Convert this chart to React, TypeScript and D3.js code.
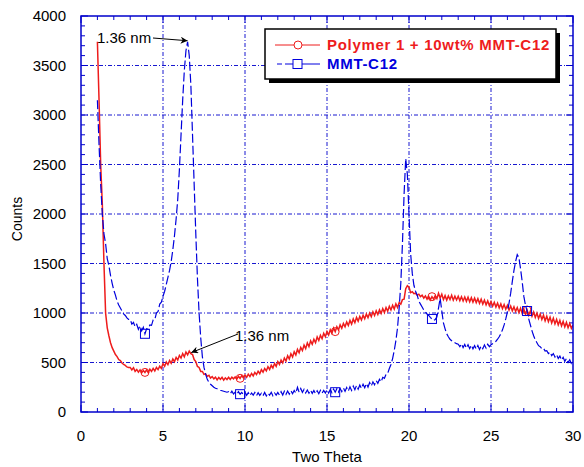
import React from "react";
import * as d3 from "d3";

const X_START = 1.0;
const X_STEP = 0.1;

const polymerValues: number[] = [
  3740, 3150, 2500, 2100, 1500, 1000, 850, 770, 700, 650,
  615, 580, 560, 530, 520, 495, 480, 470, 455, 450,
  450, 425, 448, 410, 430, 402, 425, 395, 420, 400,
  425, 398, 432, 410, 440, 415, 450, 428, 462, 440,
  490, 462, 505, 478, 520, 492, 535, 508, 552, 525,
  572, 545, 590, 558, 605, 578, 615, 590, 580, 530,
  510, 460, 450, 410, 410, 380, 385, 360, 370, 342,
  358, 335, 352, 325, 348, 330, 350, 322, 345, 328,
  350, 328, 352, 335, 355, 332, 360, 340, 368, 345,
  375, 350, 382, 358, 390, 365, 400, 378, 412, 388,
  428, 402, 440, 415, 458, 430, 472, 445, 490, 460,
  510, 480, 525, 495, 545, 515, 568, 535, 588, 555,
  608, 575, 632, 598, 652, 620, 675, 640, 698, 660,
  718, 685, 735, 700, 758, 722, 775, 740, 795, 760,
  812, 778, 830, 795, 848, 812, 862, 828, 880, 845,
  895, 860, 910, 875, 925, 888, 940, 902, 955, 918,
  965, 930, 978, 942, 990, 952, 1000, 962, 1012, 975,
  1022, 985, 1032, 995, 1045, 1005, 1055, 1018, 1068, 1030,
  1078, 1040, 1092, 1055, 1105, 1090, 1135, 1140, 1245, 1275,
  1260, 1205, 1215, 1195, 1200, 1180, 1190, 1165, 1180, 1150,
  1172, 1140, 1168, 1132, 1165, 1140, 1175, 1145, 1200, 1150,
  1190, 1135, 1175, 1130, 1172, 1135, 1180, 1130, 1170, 1132,
  1170, 1125, 1165, 1122, 1162, 1118, 1160, 1112, 1155, 1110,
  1150, 1105, 1145, 1098, 1140, 1090, 1130, 1082, 1122, 1075,
  1115, 1068, 1108, 1060, 1100, 1052, 1092, 1045, 1085, 1038,
  1078, 1030, 1070, 1022, 1062, 1015, 1055, 1005, 1048, 998,
  1040, 990, 1030, 978, 1020, 968, 1010, 955, 1000, 945,
  990, 935, 978, 922, 968, 912, 958, 900, 948, 890,
  935, 880, 925, 870, 915, 860, 905, 852, 895, 845,
  880,
];

const mmtValues: number[] = [
  3150, 2700, 2300, 2000, 1800, 1700, 1550, 1480, 1380, 1300,
  1230, 1180, 1120, 1080, 1050, 1020, 990, 975, 950, 935,
  935, 888, 905, 860, 885, 835, 870, 820, 855, 790,
  840, 835, 880, 875, 930, 935, 1000, 1015, 1090, 1110,
  1170, 1220, 1290, 1360, 1430, 1520, 1640, 1780, 1950, 2150,
  2450, 2800, 3150, 3450, 3650, 3740, 3600, 3300, 2800, 2300,
  1800, 1350, 1000, 750, 560, 450, 380, 330, 300, 280,
  265, 250, 240, 235, 228, 220, 215, 210, 205, 200,
  205, 185, 210, 182, 200, 178, 205, 180, 198, 175,
  200, 168, 195, 165, 192, 170, 198, 165, 195, 168,
  190, 165, 198, 162, 192, 170, 200, 165, 192, 170,
  198, 170, 205, 172, 210, 178, 212, 180, 215, 185,
  218, 190, 250, 200, 238, 198, 228, 192, 222, 190,
  220, 188, 218, 185, 215, 185, 220, 190, 218, 192,
  225, 192, 228, 195, 232, 200, 235, 202, 238, 205,
  242, 208, 248, 212, 255, 218, 262, 225, 268, 230,
  272, 238, 280, 245, 288, 252, 298, 262, 305, 275,
  318, 290, 330, 305, 350, 340, 380, 390, 440, 480,
  540, 620, 720, 850, 1050, 1300, 1700, 2200, 2560, 2400,
  2000, 1600, 1400, 1280, 1220, 1180, 1120, 1090, 1060, 1030,
  1010, 990, 975, 955, 940, 925, 935, 960, 1050, 1150,
  1020, 900, 840, 790, 760, 735, 720, 705, 700, 690,
  685, 660, 690, 650, 682, 645, 680, 640, 675, 638,
  670, 635, 672, 632, 668, 640, 678, 645, 685, 660,
  680, 690, 700, 715, 735, 760, 790, 830, 880, 940,
  1010, 1100, 1200, 1320, 1430, 1520, 1590, 1560, 1450, 1320,
  1170, 1080, 1020, 940, 880, 820, 770, 730, 700, 670,
  660, 640, 645, 615, 620, 590, 605, 570, 590, 555,
  580, 540, 565, 525, 552, 512, 540, 500, 528, 490,
  505,
];

const markerXs: number[] = [3.9, 9.7, 15.5, 21.4, 27.2];
const xTicks: number[] = [0, 5, 10, 15, 20, 25, 30];
const yTicks: number[] = [0, 500, 1000, 1500, 2000, 2500, 3000, 3500, 4000];
const seriesNames: string[] = ["Polymer 1 + 10wt% MMT-C12", "MMT-C12"];
const annotations = [
  { label: "1.36 nm", tx: 97, ty: 43, x: 6.5, y: 3740, sx: 153, sy: 38 },
  { label: "1.36 nm", tx: 235, ty: 341, x: 6.6, y: 600, sx: 238, sy: 334 },
];

const RED = "#ee1c1c";
const BLUE = "#0000dd";
const AXIS = "#0000cc";

export default function App() {
  const W = 584, H = 467;
  const L = 81, R = 573, T = 16, B = 412;
  const x = d3.scaleLinear().domain([0, 30]).range([L, R]);
  const y = d3.scaleLinear().domain([0, 4000]).range([B, T]);

  const toPts = (vals: number[]) => vals.map((v, i) => [X_START + i * X_STEP, v] as [number, number]);
  const red = toPts(polymerValues);
  const blue = toPts(mmtValues);
  const line = d3.line<[number, number]>().x((d) => x(d[0])).y((d) => y(d[1]));

  const valAt = (vals: number[], xv: number) => vals[Math.round((xv - X_START) / X_STEP)];

  const xMinor = d3.range(0, 31, 1);
  const yMinor = d3.range(0, 4001, 100);
  const font = "Arial, 'Liberation Sans', sans-serif";

  return (
    <svg width={W} height={H} style={{ display: "block", position: "absolute", left: 0, top: 0 }}>
      <defs>
        <clipPath id="plot">
          <rect x={L} y={T} width={R - L} height={B - T} />
        </clipPath>
        <marker id="arr" viewBox="0 0 10 10" refX="10" refY="5" markerWidth="9" markerHeight="7" orient="auto" markerUnits="userSpaceOnUse">
          <path d="M0,0 L10,5 L0,10 L3,5 Z" fill="#000" />
        </marker>
      </defs>
      <rect x={0} y={0} width={W} height={H} fill="#fff" />
      <g stroke={AXIS} strokeWidth={1} strokeDasharray="4,2,1,2" opacity={0.9}>
        {xTicks.slice(1, -1).map((t) => (
          <line key={"gx" + t} x1={x(t)} x2={x(t)} y1={T} y2={B} />
        ))}
        {yTicks.slice(1, -1).map((t) => (
          <line key={"gy" + t} x1={L} x2={R} y1={y(t)} y2={y(t)} />
        ))}
      </g>
      <g stroke={AXIS} strokeWidth={1}>
        {xMinor.map((t) => {
          const len = t % 5 === 0 ? 7 : 4;
          return (
            <g key={"xt" + t}>
              <line x1={x(t)} x2={x(t)} y1={B} y2={B - len} />
              <line x1={x(t)} x2={x(t)} y1={T} y2={T + len} />
            </g>
          );
        })}
        {yMinor.map((t) => {
          const len = t % 500 === 0 ? 7 : 4;
          return (
            <g key={"yt" + t}>
              <line x1={L} x2={L + len} y1={y(t)} y2={y(t)} />
              <line x1={R} x2={R - len} y1={y(t)} y2={y(t)} />
            </g>
          );
        })}
      </g>
      <g clipPath="url(#plot)" fill="none">
        <path d={line(red) || ""} stroke={RED} strokeWidth={1.5} />
        <path d={line(blue) || ""} stroke={BLUE} strokeWidth={1.2} strokeDasharray="9,3" />
        {markerXs.map((mx) => (
          <circle key={"c" + mx} cx={x(mx)} cy={y(valAt(polymerValues, mx))} r={4} stroke={RED} strokeWidth={1} fill="none" />
        ))}
        {markerXs.map((mx) => (
          <rect key={"s" + mx} x={x(mx) - 4.5} y={y(valAt(mmtValues, mx)) - 4.5} width={9} height={9} stroke={BLUE} strokeWidth={1} fill="none" />
        ))}
      </g>
      <rect x={L} y={T} width={R - L} height={B - T} fill="none" stroke={AXIS} strokeWidth={1.5} />
      <g fontFamily={font} fontSize={15} fill="#000">
        {xTicks.map((t) => (
          <text key={"xl" + t} x={x(t)} y={B + 29} textAnchor="middle">{t}</text>
        ))}
        {yTicks.map((t) => (
          <text key={"yl" + t} x={L - 15} y={y(t) + 5} textAnchor="end">{t}</text>
        ))}
        <text x={(L + R) / 2} y={H - 5} textAnchor="middle">Two Theta</text>
        <text transform={`translate(22,${(T + B) / 2 + 5}) rotate(-90)`} textAnchor="middle" fontSize={14}>Counts</text>
      </g>
      <g fontFamily={font} fontSize={15} fill="#000">
        {annotations.map((a, i) => (
          <g key={"an" + i}>
            <text x={a.tx} y={a.ty}>{a.label}</text>
            <line x1={a.sx} y1={a.sy} x2={x(a.x) + (i === 0 ? 0 : 2)} y2={y(a.y) + (i === 0 ? -1 : 0)} stroke="#000" strokeWidth={1} markerEnd="url(#arr)" />
          </g>
        ))}
      </g>
      <g>
        <rect x={269} y={33} width={291} height={50} fill="#000" />
        <rect x={265} y={29} width={291} height={50} fill="#fff" stroke="#000" strokeWidth={1.5} />
        <line x1={275} x2={320} y1={45} y2={45} stroke={RED} strokeWidth={1} />
        <circle cx={298} cy={45} r={4} stroke={RED} fill="#fff" strokeWidth={1} />
        <text x={327} y={50} fontFamily={font} fontWeight="bold" fontSize={15} letterSpacing={0.7} fill={RED}>{seriesNames[0]}</text>
        <line x1={285} x2={320} y1={64} y2={64} stroke={BLUE} strokeWidth={1} />
        <line x1={277} x2={282} y1={64} y2={64} stroke={BLUE} strokeWidth={1} />
        <rect x={293} y={59.5} width={9} height={9} stroke={BLUE} fill="#fff" strokeWidth={1} />
        <text x={327} y={69} fontFamily={font} fontWeight="bold" fontSize={15} letterSpacing={0.7} fill={BLUE}>{seriesNames[1]}</text>
      </g>
    </svg>
  );
}
